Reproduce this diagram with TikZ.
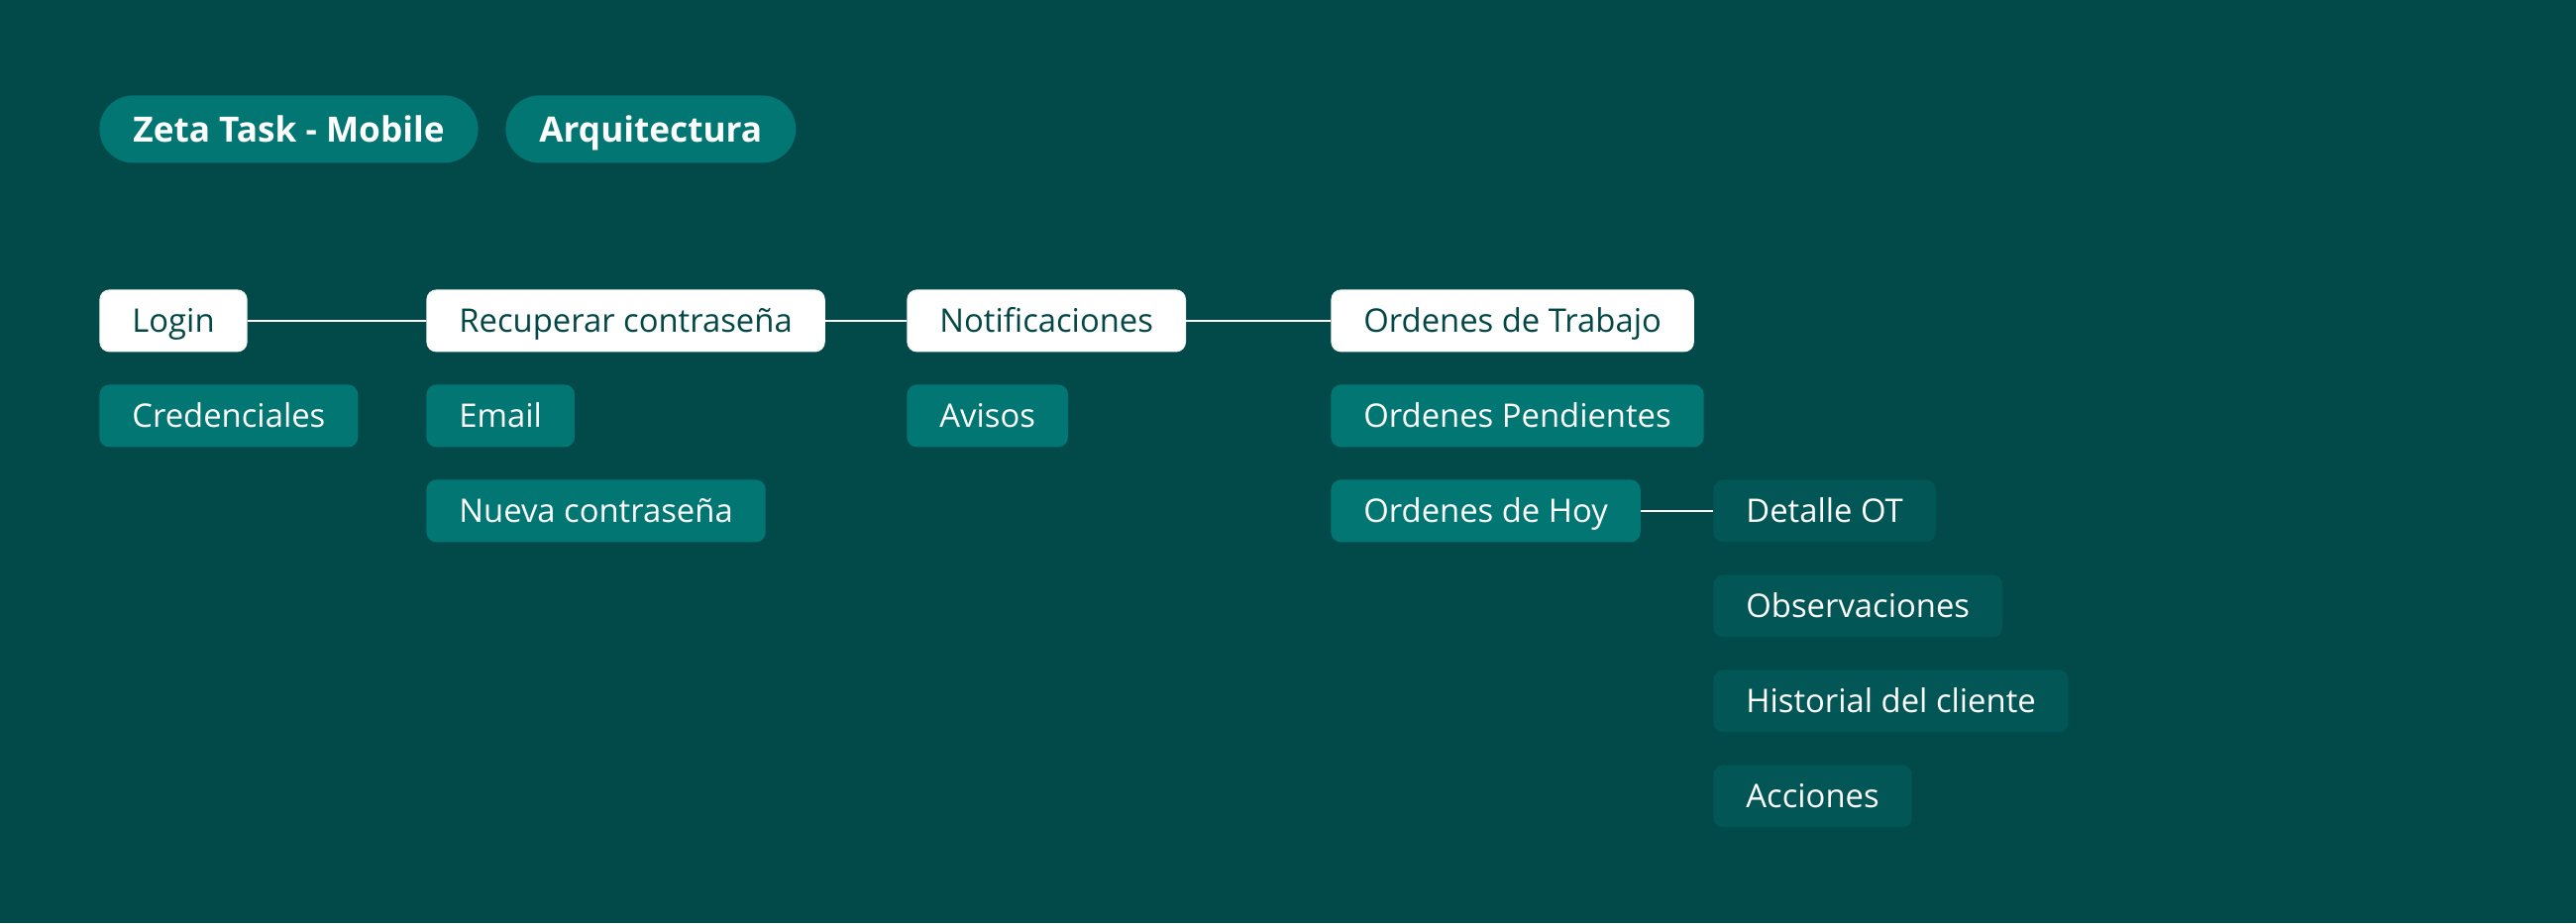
\documentclass[tikz,border=0pt]{standalone}
\usepackage{fontspec}
\setmainfont{Open Sans}
\usetikzlibrary{positioning}
\definecolor{fondo}{HTML}{024A4A}
\definecolor{tealclaro}{HTML}{017672}
\definecolor{tealoscuro}{HTML}{035656}
\definecolor{textooscuro}{HTML}{034646}

\tikzset{
  caja/.style={anchor=north west, rounded corners=5pt, minimum height=31.5pt,
    inner xsep=16.5pt, inner ysep=0pt, font=\fontsize{16.4}{19}\selectfont,
    text height=14pt, text depth=2.5pt},
  pantalla/.style={caja, fill=white, text=textooscuro},
  seccion/.style={caja, fill=tealclaro, text=white},
  detalle/.style={caja, fill=tealoscuro, text=white},
  debajo/.style={below right=16.1pt and 0pt of #1.south west},
  titulo/.style={anchor=north west, rounded corners=17pt, fill=tealclaro, text=white,
    minimum height=34pt, inner xsep=17pt, inner ysep=0pt,
    font=\fontsize{17.6}{20}\selectfont\bfseries, text height=15pt, text depth=1.7pt},
  enlace/.style={draw=white, line width=1pt},
}

\begin{document}
\begin{tikzpicture}[x=0.5pt, y=-0.5pt]
\fill[fondo] (0,0) rectangle (2600,932);
\useasboundingbox (0,0) rectangle (2600,932);

% encabezado
\node[titulo] (proyecto) at (100,96) {Zeta Task - Mobile};
\node[titulo] (arquitectura) at (510,96) {Arquitectura};

% pantallas principales
\node[pantalla] (login) at (100,292) {Login};
\node[pantalla] (recuperar) at (430,292) {Recuperar contraseña};
\node[pantalla] (notificaciones) at (915,292) {Notificaciones};
\node[pantalla] (ordenes) at (1343,292) {Ordenes de Trabajo};

% secciones de cada pantalla
\node[seccion, debajo=login] (credenciales) {Credenciales};
\node[seccion, debajo=recuperar] (email) {Email};
\node[seccion, debajo=email] (nueva) {Nueva contraseña};
\node[seccion, debajo=notificaciones] (avisos) {Avisos};
\node[seccion, debajo=ordenes] (pendientes) {Ordenes Pendientes};
\node[seccion, debajo=pendientes] (hoy) {Ordenes de Hoy};

% detalle de la orden
\coordinate (coldetalle) at (1729,0);
\node[detalle] (detalleot) at (hoy.north west -| coldetalle) {Detalle OT};
\node[detalle, debajo=detalleot] (observaciones) {Observaciones};
\node[detalle, debajo=observaciones] (historial) {Historial del cliente};
\node[detalle, debajo=historial] (acciones) {Acciones};

% flujo
\draw[enlace] (login) -- (recuperar);
\draw[enlace] (recuperar) -- (notificaciones);
\draw[enlace] (notificaciones) -- (ordenes);
\draw[enlace] (hoy) -- (detalleot);
\end{tikzpicture}
\end{document}
